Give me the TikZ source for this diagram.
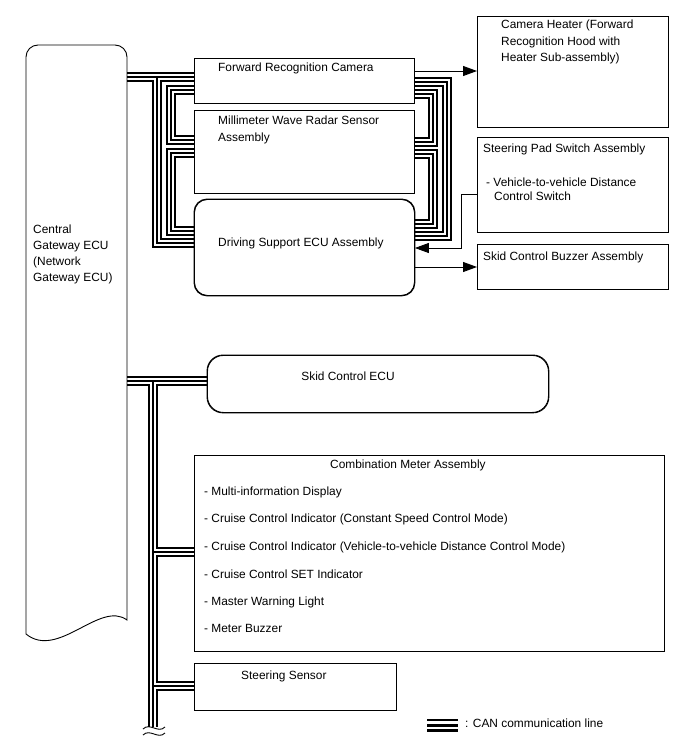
\documentclass[tikz,border=0pt]{standalone}
\usepackage{fontspec}
\setmainfont{Liberation Sans}
\usetikzlibrary{arrows.meta}
\newcommand\CANpaths{%
  \draw[canst] (cgwE |- 0,77) -- (frc.west |- 0,77);
  \draw[canst] (157,77) -- (157,243) -- (ds.west |- 0,243);
  \draw[canst] (frc.west |- 0,90) -- (171,90) -- (171,140) -- (mwr.west |- 0,140);
  \draw[canst] (mwr.west |- 0,153) -- (171,153) -- (171,231) -- (ds.west |- 0,231);
  \draw[canst] (frc.east |- 0,82) -- (447,82) -- (447,236) -- (ds.east |- 0,236);
  \draw[canst] (frc.east |- 0,94) -- (433,94) -- (433,142) -- (mwr.east |- 0,142);
  \draw[canst] (mwr.east |- 0,154) -- (433,154) -- (433,224) -- (ds.east |- 0,224);
  \draw[canst] (cgwE |- 0,381) -- (sce.west |- 0,381);
  \draw[canst] (153,381) -- (busend);
  \draw[canst] (153,552) -- (cma.west |- 0,552);
  \draw[canst] (153,686) -- (ss.west |- 0,686);
}
\begin{document}
\begin{tikzpicture}[x=1pt,y=-1pt,
  box/.style={draw, line width=0.9pt, inner sep=0pt, anchor=north west},
  rbox/.style={box, rounded corners=#1},
  txt/.style={font=\fontsize{11.9}{16}\selectfont, inner sep=0pt, anchor=base west},
  arr/.style={line width=0.9pt, -{Triangle[length=14pt,width=10pt]}},
  canA/.style={line width=10.5pt, black},
  canB/.style={line width=5.8pt, white},
  canC/.style={line width=2.3pt, black},
]
\useasboundingbox (0,0) rectangle (688,755);
% boxes as nodes
\coordinate (cgwE) at (127,0);
\coordinate (busend) at (153,727);
\node[box, minimum width=220pt, minimum height=45pt] (frc) at (194,58) {};
\node[box, minimum width=220pt, minimum height=83pt] (mwr) at (194,110) {};
\node[rbox=13pt, minimum width=220pt, minimum height=96pt] (ds) at (194,199) {};
\node[box, minimum width=191pt, minimum height=111pt] (heat) at (477,16) {};
\node[box, minimum width=191pt, minimum height=95pt] (spad) at (477,137) {};
\node[box, minimum width=191pt, minimum height=45pt] (buz) at (477,244) {};
\node[rbox=16pt, minimum width=341pt, minimum height=57pt] (sce) at (207,355) {};
\node[box, minimum width=470pt, minimum height=196pt] (cma) at (194,455) {};
\node[box, minimum width=202pt, minimum height=47pt] (ss) at (194,663) {};
% CAN buses
\begin{scope}[line cap=butt, line join=miter]
\tikzset{canst/.style=canA}\CANpaths
\tikzset{canst/.style=canB}\CANpaths
\tikzset{canst/.style=canC}\CANpaths
\end{scope}
% redraw box borders on top
\foreach \n in {frc,mwr,heat,spad,buz,cma,ss}{
  \draw[line width=0.9pt] (\n.north west) rectangle (\n.south east);
}
\draw[line width=0.9pt, rounded corners=13pt] (ds.north west) rectangle (ds.south east);
\draw[line width=0.9pt, rounded corners=16pt] (sce.north west) rectangle (sce.south east);
% central gateway ECU
\draw[line width=0.9pt] (26,634) [rounded corners=12pt] -- (26,45) -- (127,45) [sharp corners] -- (127,620)
  .. controls (100,600) and (58,660) .. (26,634);
% bus end tildes
\draw[line width=0.9pt] (143,729) .. controls (150,722) and (158,734) .. (165,727);
\draw[line width=0.9pt] (143,735) .. controls (150,728) and (158,740) .. (165,733);
% arrows
\draw[arr] (frc.east |- 0,71) -- (heat.west |- 0,71);
\draw[arr] (spad.west |- 0,194) -- (461,194) -- (461,248) -- (ds.east |- 0,248);
\draw[arr] (ds.east |- 0,267) -- (buz.west |- 0,267);
% legend
\begin{scope}[line cap=butt]
\draw[line width=13pt] (427,725) coordinate (lg1) -- (458,725) coordinate (lg2);
\draw[line width=8pt, white] (lg1) -- (lg2);
\draw[line width=3pt] (lg1) -- (lg2);
\end{scope}
% texts
\node[txt] (t1) at (33,233) {Central};
\node[txt] (t2) at (33,249) {Gateway ECU};
\node[txt] (t3) at (33,265) {(Network};
\node[txt] (t4) at (33,281) {Gateway ECU)};
\node[txt] (tfrc) at (218,71) {Forward Recognition Camera};
\node[txt] (tmwr1) at (218,124) {Millimeter Wave Radar Sensor};
\node[txt] (tmwr2) at (218,141) {Assembly};
\node[txt] (tds) at (218,246) {Driving Support ECU Assembly};
\node[txt] (th1) at (501,28) {Camera Heater (Forward};
\node[txt] (th2) at (501,45) {Recognition Hood with};
\node[txt] (th3) at (501,61) {Heater Sub-assembly)};
\node[txt] (tsp1) at (483,152) {Steering Pad Switch Assembly};
\node[txt] (tsp2) at (486,186) {- Vehicle-to-vehicle Distance};
\node[txt] (tsp3) at (494,200) {Control Switch};
\node[txt] (tbz) at (483,260) {Skid Control Buzzer Assembly};
\node[txt, anchor=base] (tsce) at (348,380) {Skid Control ECU};
\node[txt] (tcma) at (330,468) {Combination Meter Assembly};
\node[txt] (c1) at (204,495) {- Multi-information Display};
\node[txt] (c2) at (204,522) {- Cruise Control Indicator (Constant Speed Control Mode)};
\node[txt] (c3) at (204,550) {- Cruise Control Indicator (Vehicle-to-vehicle Distance Control Mode)};
\node[txt] (c4) at (204,578) {- Cruise Control SET Indicator};
\node[txt] (c5) at (204,605) {- Master Warning Light};
\node[txt] (c6) at (204,632) {- Meter Buzzer};
\node[txt] (tss) at (241,679) {Steering Sensor};
\node[txt] (tlg) at (465,727) {: CAN communication line};
\end{tikzpicture}
\end{document}
